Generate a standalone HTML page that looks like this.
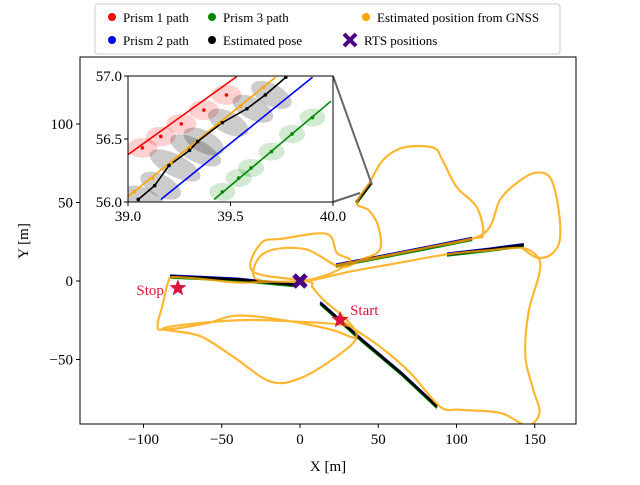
<!DOCTYPE html>
<html><head><meta charset="utf-8"><style>
body{margin:0;background:#fff}
svg text{font-family:"Liberation Serif","DejaVu Serif",serif;fill:#000}
</style></head><body>
<svg id="c" width="640" height="480" viewBox="0 0 640 480" xmlns="http://www.w3.org/2000/svg"></svg>
<script>
// ---- data (meters) ----
const gnssX=[25.6,50,70,89.5,102,128,145,153,149,144,146,153,152,142,120,94,60,32,4.5,-20,-40,-60,-80,-84,-88,-91,-87,-60,-40,-10,20,34,36,28,0,-40,-87,-64,-43,-19,0,23.5,36,30,15,8,4.5,-30,-25,-11,17,23.5,32,20,0,-27.5,-27.5,-17,4.5,25.6,40,51,50,44,36.4,44.7,53,66,85,91,100,113,117,110,80,49,23,35,80,117,128,140.6,151,160,165,166,160,151,142];
const gnssY=[-24.8,-41,-58,-80,-82,-84,-92,-84,-69,-48,-20,5,15,21,19.5,17,11,6,0,-0.5,-1,1,2.5,0,-16,-28,-31,-27,-22,-25,-31,-36,-32,-28,-26,-25,-30,-35,-48,-64,-62,-48,-36,-25,-12,-4,0,6,24,27,30,18,13,5,0,1,13,20,20,9,14,20,35,45,49.7,63,77,85,85,77,60,47,30,27,21,15,10,12,21,30,52,64,69,65.6,47,26,16.6,15,21];
const poseSegX=[[-83,-60,-40,-3],[23,49,80,110],[94,120,143],[13,40,65,87.5],[36,45]];
const poseSegY=[[3,2,1,-2.5],[10,15,21,27],[17,20,23],[-14,-38,-59,-80],[50,62]];
const startPt=[25.6,-24.8], stopPt=[-78,-4.5], rtsPt=[0,0];
const xTicks=[-100,-50,0,50,100,150], yTicks=[-50,0,50,100];
// inset data
const inRedX=[38.995,39.53], inRedY=[56.37,56.995];
const inRedPts=[[39.07,56.43],[39.16,56.52],[39.26,56.62],[39.37,56.73],[39.48,56.85]];
const inOrX=[38.99,39.72], inOrY=[56.03,56.99];
const inOrPts=[[39.03,56.08],[39.12,56.19],[39.21,56.31],[39.3,56.43],[39.45,56.63],[39.55,56.76],[39.66,56.91]];
const inBlkX=[39.05,39.13,39.2,39.3,39.34,39.46,39.58,39.67,39.77];
const inBlkY=[56.02,56.13,56.29,56.41,56.48,56.63,56.74,56.85,56.99];
const inBluX=[39.16,39.9], inBluY=[56.02,56.99];
const inGrnX=[39.42,39.99], inGrnY=[56.02,56.8];
const inGrnPts=[[39.46,56.08],[39.54,56.19],[39.6,56.27],[39.7,56.4],[39.8,56.54],[39.9,56.67]];
const inTicksX=[39.0,39.5,40.0], inTicksY=[56.0,56.5,57.0];

const NS="http://www.w3.org/2000/svg", svg=document.getElementById('c');
function mk(t,a,p){const e=document.createElementNS(NS,t);for(const k in a)e.setAttribute(k,a[k]);(p||svg).appendChild(e);return e;}
function smooth(P){let d='M'+P[0][0]+','+P[0][1];for(let i=0;i<P.length-1;i++){const p0=P[Math.max(i-1,0)],p1=P[i],p2=P[i+1],p3=P[Math.min(i+2,P.length-1)];
 d+=`C${p1[0]+(p2[0]-p0[0])/6},${p1[1]+(p2[1]-p0[1])/6} ${p2[0]-(p3[0]-p1[0])/6},${p2[1]-(p3[1]-p1[1])/6} ${p2[0]},${p2[1]}`;}return d;}
const L=80,R=576,T=57,B=424;
const sx=v=>300+v*1.565, sy=v=>281-v*1.57;
const defs=mk('defs',{});
const clip=mk('clipPath',{id:'mc'},defs);mk('rect',{x:L,y:T,width:R-L,height:B-T},clip);
const g=mk('g',{'clip-path':'url(#mc)'});

const cols=[['#f00',1],['#00f',-1],['#080',1.6],['#000',0]];
const cnames=['prism-1-path','prism-2-path','prism-3-path','estimated-pose'];
cols.forEach((c,ci)=>{poseSegX.forEach((xs,si)=>{
 const pts=xs.map((x,i)=>sx(x)+','+(sy(poseSegY[si][i])+c[1])).join(' ');
 const p=mk('polyline',{points:pts,fill:'none',stroke:c[0],'stroke-width':ci==3?2.6:1.8},g);
 
});});
const gp=mk('path',{d:smooth(gnssX.map((x,i)=>[sx(x),sy(gnssY[i])])),fill:'none',stroke:'#ffa500','stroke-opacity':0.8,'stroke-width':2.2,'stroke-linejoin':'round'},g);

const fr=mk('rect',{x:L,y:T,width:R-L,height:B-T,fill:'none',stroke:'#000','stroke-width':1});

xTicks.forEach(v=>{mk('line',{x1:sx(v),x2:sx(v),y1:B,y2:B+4,stroke:'#000'});
 const t=mk('text',{x:sx(v),y:B+20,'text-anchor':'middle','font-size':15});t.textContent=v<0?'\u2212'+(-v):v;
 });
yTicks.forEach(v=>{mk('line',{x1:L-4,x2:L,y1:sy(v),y2:sy(v),stroke:'#000'});
 const t=mk('text',{x:L-7,y:sy(v)+5,'text-anchor':'end','font-size':15});t.textContent=v<0?'\u2212'+(-v):v;
 });
let t=mk('text',{x:328,y:471,'text-anchor':'middle','font-size':15});t.textContent='X [m]';

t=mk('text',{x:0,y:0,'text-anchor':'middle','font-size':15,transform:'translate(28,241) rotate(-90)'});t.textContent='Y [m]';

function star(cx,cy,r,name){const p=[];for(let i=0;i<10;i++){const a=-Math.PI/2+i*Math.PI/5,rr=i%2?r*0.42:r;p.push((cx+rr*Math.cos(a))+','+(cy+rr*Math.sin(a)));}
 const s=mk('polygon',{points:p.join(' '),fill:'#dc143c'});}
star(sx(startPt[0]),sy(startPt[1]),9,'start-marker');star(sx(stopPt[0]),sy(stopPt[1]),9,'stop-marker');
t=mk('text',{x:sx(startPt[0])+10,y:sy(startPt[1])-5,'font-size':15,style:'fill:#dc143c'});t.textContent='Start';

t=mk('text',{x:sx(stopPt[0])-14,y:sy(stopPt[1])+7,'font-size':15,'text-anchor':'end',style:'fill:#dc143c'});t.textContent='Stop';

const rx=sx(rtsPt[0]),ry=sy(rtsPt[1]);
const xm=mk('path',{d:`M${rx-6},${ry-6}L${rx+6},${ry+6}M${rx+6},${ry-6}L${rx-6},${ry+6}`,stroke:'#4b0082','stroke-width':5});

mk('path',{d:'M333,76L372,185M333,202L360,193',stroke:'#666','stroke-width':2,fill:'none'});
// inset
const IL=128,IR=333,IT=76,IB=202;
const ix=v=>IL+(v-39)*(IR-IL), iy=v=>IB-(v-56)*(IB-IT);
mk('rect',{x:IL,y:IT,width:IR-IL,height:IB-IT,fill:'#fff'});
const ic=mk('clipPath',{id:'ic'},defs);mk('rect',{x:IL,y:IT,width:IR-IL,height:IB-IT},ic);
const ig=mk('g',{'clip-path':'url(#ic)'});
inRedPts.forEach(p=>mk('ellipse',{cx:ix(p[0]),cy:iy(p[1]),rx:15,ry:10,fill:'#f00','fill-opacity':0.18},ig));
inGrnPts.forEach(p=>mk('ellipse',{cx:ix(p[0]),cy:iy(p[1]),rx:13,ry:9,fill:'#080','fill-opacity':0.18},ig));
inBlkX.forEach((x,i)=>{if(i<8){mk('ellipse',{cx:ix(x)+6,cy:iy(inBlkY[i]),rx:i==2||i==3?28:22,ry:11,fill:'#000','fill-opacity':0.2,transform:`rotate(27 ${ix(x)+6} ${iy(inBlkY[i])})`},ig);}});
function iline(xs,ys,c,n){const p=mk('polyline',{points:xs.map((x,i)=>ix(x)+','+iy(ys[i])).join(' '),fill:'none',stroke:c,'stroke-width':1.6},ig);}
iline(inRedX,inRedY,'#f00','inset-prism-1');iline(inOrX,inOrY,'#ffa500','inset-gnss');
iline(inBluX,inBluY,'#00f','inset-prism-2');iline(inGrnX,inGrnY,'#080','inset-prism-3');
iline(inBlkX,inBlkY,'#000','inset-pose');
inRedPts.forEach(p=>mk('circle',{cx:ix(p[0]),cy:iy(p[1]),r:1.8,fill:'#f00'},ig));
inGrnPts.forEach(p=>mk('circle',{cx:ix(p[0]),cy:iy(p[1]),r:1.8,fill:'#080'},ig));
inOrPts.forEach(p=>mk('circle',{cx:ix(p[0]),cy:iy(p[1]),r:1.8,fill:'#ffa500'},ig));
inBlkX.forEach((x,i)=>mk('circle',{cx:ix(x),cy:iy(inBlkY[i]),r:1.8,fill:'#000'},ig));
mk('rect',{x:IL,y:IT,width:IR-IL,height:IB-IT,fill:'none',stroke:'#000'});
inTicksX.forEach(v=>{mk('line',{x1:ix(v),x2:ix(v),y1:IB,y2:IB+4,stroke:'#000'});
 const t=mk('text',{x:ix(v),y:IB+19,'text-anchor':'middle','font-size':15});t.textContent=v.toFixed(1);
 });
inTicksY.forEach(v=>{mk('line',{x1:IL-4,x2:IL,y1:iy(v),y2:iy(v),stroke:'#000'});
 const t=mk('text',{x:IL-6,y:iy(v)+5,'text-anchor':'end','font-size':15});t.textContent=v.toFixed(1);
 });
// legend
const lg=mk('g',{});
mk('rect',{x:95,y:4,width:465,height:50,rx:3,fill:'#fff','fill-opacity':0.85,stroke:'#ccc'},lg);
const le=[[112,17,'#f00','Prism 1 path'],[212,17,'#080','Prism 3 path'],[366,17,'#ffa500','Estimated position from GNSS'],[112,40,'#00f','Prism 2 path'],[212,40,'#000','Estimated pose']];
le.forEach(e=>{const gi=mk('g',{},lg);
 mk('circle',{cx:e[0],cy:e[1],r:4,fill:e[2]},gi);const tt=mk('text',{x:e[0]+11,y:e[1]+5,'font-size':13},gi);tt.textContent=e[3];});
const gi=mk('g',{},lg);
mk('path',{d:'M344,34L356,46M356,34L344,46',stroke:'#4b0082','stroke-width':4},gi);
const tt=mk('text',{x:364,y:45,'font-size':13},gi);tt.textContent='RTS positions';
</script>
</body></html>
